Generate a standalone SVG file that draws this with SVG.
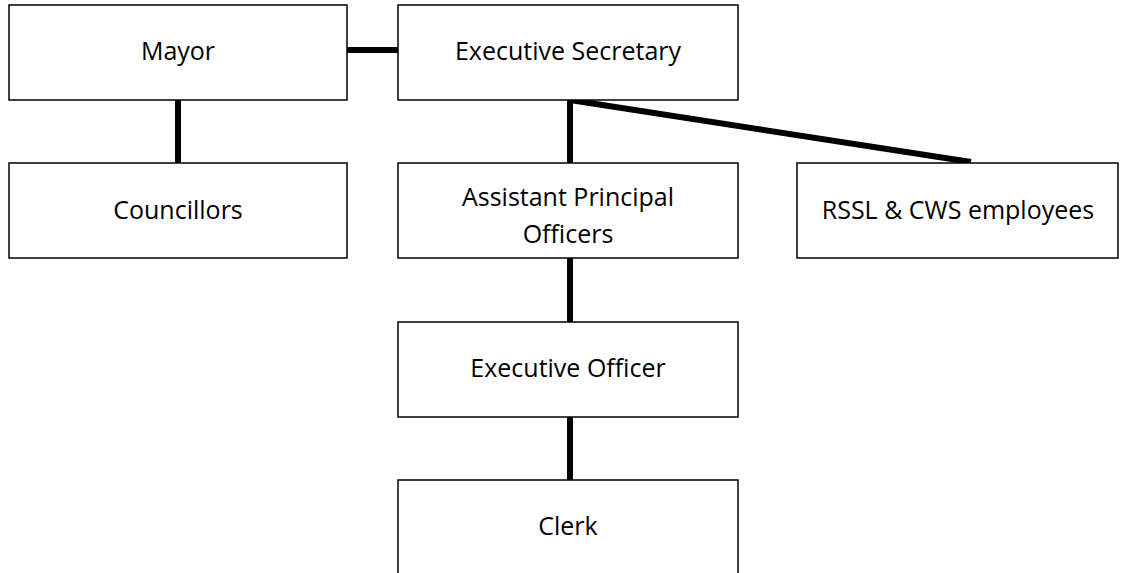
<svg xmlns="http://www.w3.org/2000/svg" width="1128" height="573" viewBox="0 0 1128 573">
<style>
.box{fill:#fff;stroke:#000;stroke-width:1.5}
.lbl{font-family:"Open Sans","Liberation Sans",sans-serif;font-size:25px;fill:#000;text-anchor:middle}
.conn{stroke:#000;stroke-width:6;fill:none}
</style>
<rect width="1128" height="573" fill="#fff"/>
<g id="connectors">
<line class="conn" x1="347" y1="50" x2="398" y2="50"/>
<line class="conn" x1="178" y1="100" x2="178" y2="163"/>
<line class="conn" x1="570" y1="100" x2="570" y2="163"/>
<line class="conn" x1="570" y1="100" x2="971" y2="162"/>
<line class="conn" x1="570" y1="258" x2="570" y2="322"/>
<line class="conn" x1="570" y1="417" x2="570" y2="480"/>
</g>
<g id="mayor"><rect class="box" x="9" y="5" width="338" height="95"/><text class="lbl" x="178" y="60">Mayor</text></g>
<g id="exec-secretary"><rect class="box" x="398" y="5" width="340" height="95"/><text class="lbl" x="568" y="60">Executive Secretary</text></g>
<g id="councillors"><rect class="box" x="9" y="163" width="338" height="95"/><text class="lbl" x="178" y="219">Councillors</text></g>
<g id="assistant-principal-officers"><rect class="box" x="398" y="163" width="340" height="95"/><text class="lbl" x="568" y="206">Assistant Principal</text><text class="lbl" x="568" y="243">Officers</text></g>
<g id="rssl-cws"><rect class="box" x="797" y="163" width="321" height="95"/><text class="lbl" x="958" y="219">RSSL &amp; CWS employees</text></g>
<g id="executive-officer"><rect class="box" x="398" y="322" width="340" height="95"/><text class="lbl" x="568" y="377">Executive Officer</text></g>
<g id="clerk"><rect class="box" x="398" y="480" width="340" height="100"/><text class="lbl" x="568" y="535">Clerk</text></g>
</svg>
